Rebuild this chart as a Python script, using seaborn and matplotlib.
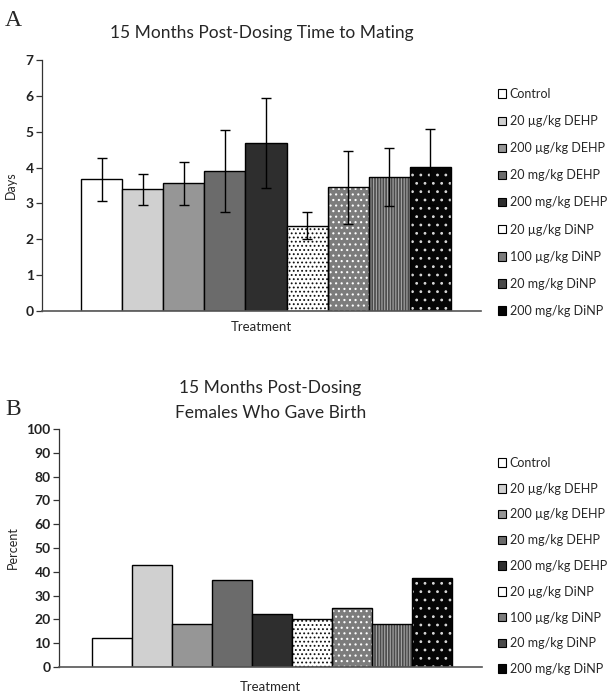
import pandas as pd
import numpy as np
import matplotlib
matplotlib.use("Agg")
import matplotlib.pyplot as plt
import seaborn as sns
import copy

# Data
groups = ["Control", "20 µg/kg DEHP", "200 µg/kg DEHP", "20 mg/kg DEHP", "200 mg/kg DEHP",
          "20 µg/kg DiNP", "100 µg/kg DiNP", "20 mg/kg DiNP", "200 mg/kg DiNP"]
days_mean = [3.67, 3.39, 3.56, 3.90, 4.68, 2.38, 3.45, 3.73, 4.02]
days_err = [0.60, 0.43, 0.60, 1.15, 1.26, 0.38, 1.02, 0.81, 1.05]
birth_pct = [12.0, 42.9, 18.2, 36.4, 22.2, 20.0, 25.0, 18.2, 37.5]

# Styles
faces = ["#ffffff", "#d0d0d0", "#969696", "#6b6b6b", "#2e2e2e",
         "#ffffff", "#7c7c7c", "#4a4a4a", "#050505"]
hatches = [None, None, None, None, None, "....", "...", "||||||", ".."]
hatch_cols = [None, None, None, None, None, "#111111", "#ffffff", "#a8a8a8", "#d8d8d8"]

sns.set_style("white")
plt.rcParams["font.family"] = ["Lato", "DejaVu Sans"]
plt.rcParams["hatch.linewidth"] = 0.8

df_a = pd.DataFrame({"Treatment": [""] * 9, "Group": groups, "Days": days_mean})
df_b = pd.DataFrame({"Treatment": [""] * 9, "Group": groups, "Percent": birth_pct})

fig = plt.figure(figsize=(6.12, 6.94), dpi=100)
ax_a = fig.add_axes([42 / 612, 1 - 311 / 694, 439 / 612, 251 / 694])
ax_b = fig.add_axes([59 / 612, 1 - 667 / 694, 423 / 612, 238 / 694])

pal = dict(zip(groups, faces))


def style_bars(ax):
    bars = list(ax.containers)[:len(groups)]
    for i, cont in enumerate(bars):
        for p in cont:
            p.set_facecolor(faces[i])
            if hatches[i]:
                p.set_hatch(hatches[i])
                p.set_edgecolor(hatch_cols[i])
                p.set_linewidth(0)
                outline = copy.copy(p)
                outline.set_hatch(None)
                outline.set_fill(False)
                outline.set_edgecolor("black")
                outline.set_linewidth(1.0)
                ax.add_patch(outline)
            else:
                p.set_edgecolor("black")
                p.set_linewidth(1.0)
    return bars


def style_axis(ax, ylabel, label_x, xpad):
    for s in ["top", "right"]:
        ax.spines[s].set_visible(False)
    ax.spines["left"].set_color("#333333")
    ax.spines["bottom"].set_color("#555555")
    ax.spines["left"].set_linewidth(0.9)
    ax.spines["bottom"].set_linewidth(1.2)
    ax.tick_params(axis="y", which="both", left=True, length=4, width=0.9,
                   color="#333333", labelsize=10, pad=2)
    ax.tick_params(axis="x", bottom=False, labelbottom=False)
    for t in ax.get_yticklabels():
        t.set_fontweight("bold")
        t.set_color("#222222")
    ax.set_ylabel(ylabel, fontsize=9)
    ax.yaxis.set_label_coords(label_x, 0.5)
    ax.set_xlabel("Treatment", fontsize=9.5, labelpad=xpad)


def add_legend(ax, y_top, spacing):
    handles = []
    for i, g in enumerate(groups):
        h = matplotlib.patches.Patch(facecolor=faces[i], edgecolor="black", linewidth=0.8,
                                     label=g)
        handles.append(h)
    fig.legend(handles=handles, loc="upper left", bbox_to_anchor=(493 / 612, 1 - y_top / 694),
               frameon=False, fontsize=9, handlelength=0.65, handleheight=0.65,
               handletextpad=0.3, labelspacing=spacing, borderaxespad=0)


# Panel A
sns.barplot(data=df_a, x="Treatment", y="Days", hue="Group", hue_order=groups,
            palette=pal, width=0.8, gap=0, errorbar=None, legend=False, ax=ax_a)
bars_a = style_bars(ax_a)
for i, cont in enumerate(bars_a):
    p = cont[0]
    ax_a.errorbar(p.get_x() + p.get_width() / 2, days_mean[i], yerr=days_err[i],
                  fmt="none", ecolor="black", elinewidth=1, capsize=3.5, capthick=1, zorder=5)
ax_a.set_ylim(0, 7)
ax_a.set_yticks(range(0, 8))
ax_a.set_xlim(-0.4843, 0.4649)
style_axis(ax_a, "Days", -0.058, 7)
ax_a.set_title("15 Months Post-Dosing Time to Mating", fontsize=12.5, pad=15.5)
add_legend(ax_a, 83, 1.21)

# Panel B
sns.barplot(data=df_b, x="Treatment", y="Percent", hue="Group", hue_order=groups,
            palette=pal, width=0.8, gap=0, errorbar=None, legend=False, ax=ax_b)
style_bars(ax_b)
ax_b.set_ylim(0, 100)
ax_b.set_yticks(range(0, 101, 10))
ax_b.set_xlim(-0.4744, 0.4669)
style_axis(ax_b, "Percent", -0.094, 10)
ax_b.set_title("15 Months Post-Dosing\nFemales Who Gave Birth", fontsize=12.5, pad=8,
               linespacing=1.65)
add_legend(ax_b, 452, 1.1)

fig.text(5 / 612, 1 - 10 / 694, "A", fontsize=17, family="Liberation Serif", va="top")
fig.text(5 / 612, 1 - 399 / 694, "B", fontsize=17, family="Liberation Serif", va="top")

fig.savefig("out.png", dpi=100)
